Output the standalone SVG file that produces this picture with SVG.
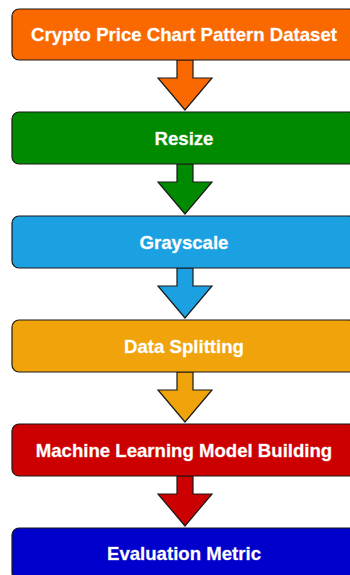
<svg xmlns="http://www.w3.org/2000/svg" width="350" height="575" viewBox="0 0 350 575">
<style>
.box{stroke:#1a1a1a;stroke-width:1.2}
.lbl{font-family:"Liberation Sans",Arial,sans-serif;font-weight:bold;font-size:18.6px;fill:#fff;stroke:#fff;stroke-opacity:0.35;stroke-width:0.8;text-anchor:middle;dominant-baseline:central}
.arr{stroke:#1a1a1a;stroke-width:1.2;stroke-linejoin:miter}
</style>
<rect width="350" height="575" fill="#fff"/>
<g id="connectors">
<polygon class="arr" fill="#FA6800" points="177,60 193,60 193,78 212,78 185,110 158,78 177,78"/>
<polygon class="arr" fill="#008A00" points="177,164 193,164 193,182 212,182 185,214 158,182 177,182"/>
<polygon class="arr" fill="#1BA1E2" points="177,268 193,268 193,286 212,286 185,318 158,286 177,286"/>
<polygon class="arr" fill="#F0A30A" points="177,372 193,372 193,390 212,390 185,422 158,390 177,390"/>
<polygon class="arr" fill="#CC0000" points="177,476 193,476 193,494 212,494 185,526 158,494 177,494"/>
</g>
<g id="n1"><rect class="box" x="12" y="9" width="344" height="51" rx="7" fill="#FA6800"/><text class="lbl" x="184" y="34">Crypto Price Chart Pattern Dataset</text></g>
<g id="n2"><rect class="box" x="12" y="112" width="344" height="52" rx="7" fill="#008A00"/><text class="lbl" x="184" y="138">Resize</text></g>
<g id="n3"><rect class="box" x="12" y="216" width="344" height="52" rx="7" fill="#1BA1E2"/><text class="lbl" x="184" y="242">Grayscale</text></g>
<g id="n4"><rect class="box" x="12" y="320" width="344" height="52" rx="7" fill="#F0A30A"/><text class="lbl" x="184" y="346">Data Splitting</text></g>
<g id="n5"><rect class="box" x="12" y="424" width="344" height="52" rx="7" fill="#CC0000"/><text class="lbl" x="184" y="450">Machine Learning Model Building</text></g>
<g id="n6"><rect class="box" x="12" y="528" width="344" height="52" rx="7" fill="#0000CC"/><text class="lbl" x="184" y="553">Evaluation Metric</text></g>
</svg>
